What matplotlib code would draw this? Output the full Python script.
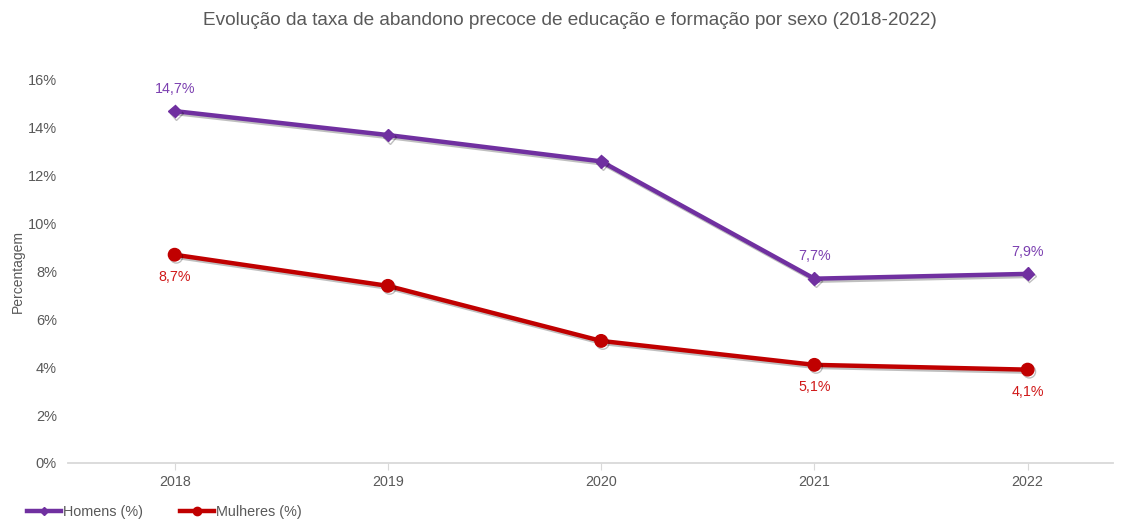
import matplotlib
matplotlib.use("Agg")
import matplotlib.pyplot as plt
import matplotlib.patheffects as pe
from matplotlib.lines import Line2D

years = [2018, 2019, 2020, 2021, 2022]
homens = [14.7, 13.7, 12.6, 7.7, 7.9]
mulheres = [8.7, 7.4, 5.1, 4.1, 3.9]
homens_labels = ["14,7%", "", "", "7,7%", "7,9%"]
mulheres_labels = ["8,7%", "", "", "5,1%", "4,1%"]
yticks = [0, 2, 4, 6, 8, 10, 12, 14, 16]

plt.rcParams['font.family'] = ['Liberation Sans', 'DejaVu Sans']

purple = "#7030A0"
red = "#C00000"
grey = "#595959"

fig = plt.figure(figsize=(11.26, 5.19), dpi=100)
ax = fig.add_axes([0.0604, 0.1079, 0.928, 0.738])

shadow = [pe.SimpleLineShadow(offset=(1.2, -1.5), shadow_color="black", alpha=0.25), pe.Normal()]
ax.plot(years, homens, color=purple, lw=3.2, marker="D", ms=6.5, path_effects=shadow, zorder=3)
ax.plot(years, mulheres, color=red, lw=3.2, marker="o", ms=9, path_effects=shadow, zorder=3)

for x, y, t in zip(years, homens, homens_labels):
    if t:
        ax.annotate(t, (x, y), xytext=(0, 11), textcoords="offset points",
                    ha="center", va="bottom", color="#7B3FB0", fontsize=10.3)
for x, y, t in zip(years, mulheres, mulheres_labels):
    if t:
        ax.annotate(t, (x, y), xytext=(0, -11), textcoords="offset points",
                    ha="center", va="top", color="#D01818", fontsize=10.3)

ax.set_xlim(2017.5, 2022.4)
ax.set_ylim(0, 16)
ax.set_xticks(years)
ax.set_xticklabels([str(y) for y in years])
ax.set_yticks(yticks)
ax.set_yticklabels([f"{v}%" for v in yticks])
for s in ["top", "right", "left"]:
    ax.spines[s].set_visible(False)
ax.spines["bottom"].set_color("#D9D9D9")
ax.spines["bottom"].set_linewidth(1.3)
ax.tick_params(axis="y", length=0, labelsize=10.5, labelcolor=grey, pad=8)
ax.tick_params(axis="x", length=5, color="#D9D9D9", labelsize=10.3, labelcolor=grey, pad=4)

ax.set_ylabel("Percentagem", fontsize=10, color=grey, labelpad=4)
ax.yaxis.set_label_coords(-0.041, 0.5)

fig.text(0.506, 0.96, "Evolução da taxa de abandono precoce de educação e formação por sexo (2018-2022)",
         ha="center", va="center", fontsize=13.7, color=grey)

handles = [Line2D([], [], color=purple, lw=3.2, marker="D", ms=4),
           Line2D([], [], color=red, lw=3.2, marker="o", ms=6)]
fig.legend(handles, ["Homens (%)", "Mulheres (%)"], loc="center left",
           bbox_to_anchor=(0.014, 0.013), ncol=2, frameon=False, fontsize=10.4,
           handlelength=2.35, handletextpad=0.1, columnspacing=2.6,
           labelcolor=grey, borderpad=0.3)

fig.savefig("out.png", dpi=100)
